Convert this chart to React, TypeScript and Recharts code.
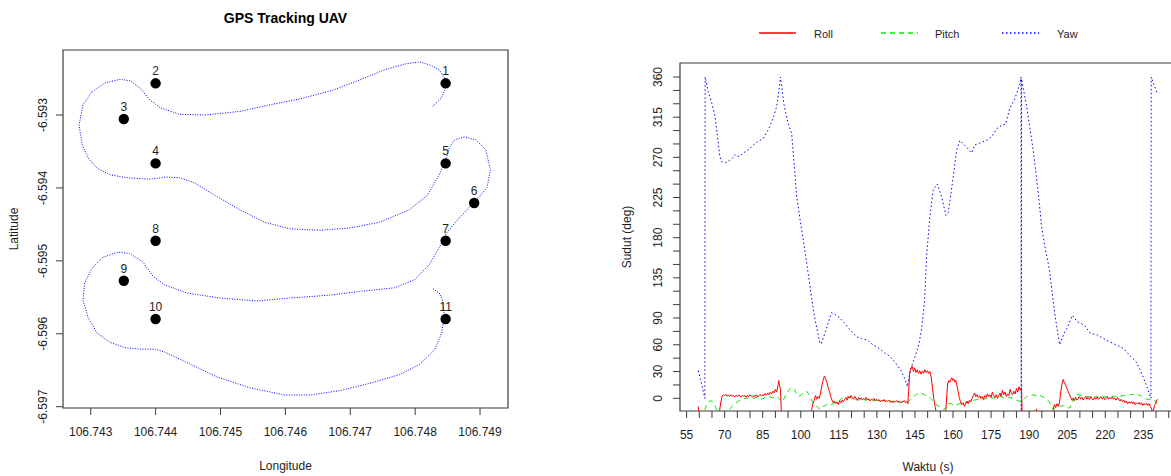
import React from 'react';
import { ScatterChart, Scatter, XAxis, YAxis, ReferenceArea, LineChart, Line, Legend } from 'recharts';

const FONT = '"Liberation Sans", Arial, Helvetica, sans-serif';
const INK = '#1e1e1e';
const FRAME = '#3c3c3c';

// ---------- Left panel: GPS Tracking UAV ----------
const waypointId = [1, 2, 3, 4, 5, 6, 7, 8, 9, 10, 11];
const waypointLon = [106.74847, 106.744, 106.74351, 106.744, 106.74847, 106.74891, 106.74847, 106.744, 106.74351, 106.744, 106.74847];
const waypointLat = [-6.592565, -6.592565, -6.593055, -6.593663, -6.593663, -6.594207, -6.594724, -6.594724, -6.595273, -6.595798, -6.595798];

const trackLon = [
  106.74827, 106.7484, 106.74847, 106.74845, 106.74837, 106.74825, 106.74807, 106.74784, 106.74753, 106.74714,
  106.74673, 106.74622, 106.74576, 106.7453, 106.74476, 106.74437, 106.74407, 106.74391, 106.74376, 106.74361,
  106.74345, 106.74322, 106.74302, 106.74288, 106.74282, 106.74287, 106.74296, 106.7431, 106.7433, 106.74356,
  106.74391, 106.74417, 106.74437, 106.7446, 106.74491, 106.7453, 106.74568, 106.74607, 106.74653, 106.74699,
  106.74745, 106.74791, 106.74819, 106.74837, 106.74847, 106.74853, 106.74861, 106.74876, 106.74894, 106.74909,
  106.74916, 106.74911, 106.74899, 106.74887, 106.74868, 106.74848, 106.74837, 106.74822, 106.74799, 106.74768,
  106.74714, 106.74668, 106.74607, 106.74556, 106.74499, 106.74448, 106.74414, 106.74396, 106.7438, 106.7436,
  106.74342, 106.74319, 106.74302, 106.74291, 106.74288, 106.74296, 106.7431, 106.7433, 106.74353, 106.74376,
  106.74399, 106.74414, 106.74445, 106.74494, 106.74545, 106.74599, 106.74638, 106.74684, 106.7473, 106.74776,
  106.74807, 106.7483, 106.74841, 106.74845, 106.74842, 106.74837, 106.74827,
];
const trackLat = [
  -6.59288, -6.59277, -6.59263, -6.59249, -6.59238, -6.59232, -6.59227, -6.5923, -6.59238, -6.59252,
  -6.59266, -6.59278, -6.59286, -6.59295, -6.593, -6.59299, -6.5929, -6.59279, -6.59263, -6.59253,
  -6.59251, -6.59256, -6.59268, -6.59286, -6.59314, -6.59341, -6.59359, -6.59373, -6.59382, -6.59386,
  -6.59388, -6.59385, -6.59386, -6.59393, -6.5941, -6.5943, -6.59447, -6.59456, -6.59458, -6.59455,
  -6.59447, -6.5943, -6.5941, -6.59382, -6.59362, -6.59344, -6.59334, -6.5933, -6.59334, -6.59348,
  -6.59375, -6.59399, -6.59412, -6.59423, -6.59441, -6.59462, -6.59482, -6.59505, -6.59526, -6.59537,
  -6.59542, -6.59547, -6.59551, -6.59555, -6.59551, -6.59544, -6.59533, -6.59521, -6.59501, -6.5949,
  -6.59488, -6.59495, -6.5951, -6.5953, -6.59553, -6.59578, -6.59599, -6.59612, -6.59619, -6.59621,
  -6.59621, -6.59625, -6.59638, -6.59659, -6.59674, -6.59684, -6.59684, -6.59678, -6.59668, -6.59656,
  -6.59642, -6.59622, -6.59599, -6.59574, -6.59553, -6.59544, -6.59538,
];

const lonTicks = [106.743, 106.744, 106.745, 106.746, 106.747, 106.748, 106.749];
const latTicks = [-6.597, -6.596, -6.595, -6.594, -6.593];
const lonDomain: [number, number] = [106.742573, 106.749431];
const latDomain: [number, number] = [-6.597018, -6.592108];

// ---------- Right panel: Roll / Pitch / Yaw ----------
const roll: [number, number][] = [
  [59.6, -9], [60, -28], [61, -30], [67, -30], [68, -14], [68.5, -4], [69, 2], [69.5, 4], [70, 3], [70.5, 4.5],
  [71, 2.5], [71.5, 3.5], [72, 2], [72.5, 4], [73, 2.5], [73.5, 3], [74, 1.5], [74.5, 3.5], [75, 2], [75.5, 4],
  [76, 2.5], [76.5, 1.5], [77, 3.5], [77.5, 2], [78, 3], [78.5, 1], [79, 3.5], [79.5, 2], [80, 4], [80.5, 2.5],
  [81, 1.5], [81.5, 3], [82, 2], [82.5, 4], [83, 1.5], [83.5, 3], [84, 4.5], [84.5, 2.5], [85, 4], [85.5, 3],
  [86, 5.5], [86.5, 3.5], [87, 6], [87.5, 4], [88, 7], [88.5, 5], [89, 8], [89.5, 6], [90, 10], [90.5, 7],
  [91, 14], [91.3, 20], [91.6, 15], [92, 10], [92.4, -20], [92.6, -30], [104, -30], [104.3, -12], [104.8, -6], [105.3, -2],
  [105.8, 3], [106.3, -1], [106.8, 2], [107.3, 0], [107.8, 6], [108.3, 14], [108.8, 20], [109.3, 25], [109.8, 22], [110.3, 18],
  [110.8, 12], [111.3, 8], [111.8, 2], [112.3, -2], [112.8, -5], [113.3, -3], [113.8, -6], [114.3, -4], [114.8, -7], [115.3, -3],
  [115.8, -5], [116.3, -2], [116.8, -4], [117.3, -1], [117.8, 1], [118.3, -2], [118.8, 2], [119.3, 0], [119.8, 3], [120.3, 1],
  [120.8, -1], [121.3, 2], [121.8, 0], [122.3, -2], [122.8, 1], [123.3, -1], [123.8, 0.5], [124.3, -2], [124.8, 0], [125.3, -1.5],
  [125.8, 1], [126.3, -2], [126.8, -0.5], [127.3, -3], [127.8, -1], [128.3, -2], [128.8, 0], [129.3, -2.5], [129.8, -1], [130.3, -3],
  [130.8, -1.5], [131.3, -4], [131.8, -2], [132.3, -3], [132.8, -1.5], [133.3, -4], [133.8, -2.5], [134.3, -3.5], [134.8, -2], [135.3, -4.5],
  [135.8, -3], [136.3, -5], [136.8, -3], [137.3, -4], [137.8, -2.5], [138.3, -4.5], [138.8, -3], [139.3, -5], [139.8, -3.5], [140.3, -4],
  [140.8, -2.5], [141.3, -5], [141.8, -3.5], [142.2, -6], [142.5, 8], [142.9, 28], [143.4, 33], [143.9, 36], [144.4, 30], [144.9, 34],
  [145.4, 29], [145.9, 32], [146.4, 28], [146.9, 31], [147.4, 27], [147.9, 30], [148.4, 28], [148.9, 32], [149.4, 29], [149.9, 31],
  [150.4, 28], [150.9, 30], [151.4, 24], [151.9, 12], [152.4, 0], [153, -10], [153.6, -20], [154, -30], [156.8, -30], [157.2, -12],
  [157.5, 2], [157.9, 16], [158.3, 20], [158.7, 18], [159.1, 21], [159.5, 23], [159.9, 20], [160.3, 22], [160.7, 18], [161.1, 20],
  [161.5, 15], [162, 8], [162.5, 0], [163, -4], [163.5, -7], [164, -5], [164.5, -9], [165, -6], [165.5, -3], [166, -6],
  [166.5, -2], [167, -4], [167.5, 0], [168, 3], [168.5, 6], [169, 2], [169.5, 4], [170, 1], [170.5, 3], [171, 0],
  [171.5, 2], [172, -1], [172.5, 3], [173, 1], [173.5, 5], [174, 2], [174.5, 4], [175, 1], [175.5, 7], [176, 3],
  [176.5, 1], [177, 4], [177.5, 0], [178, 3], [178.5, 6], [179, 2], [179.5, 9], [180, 4], [180.5, 7], [181, 2],
  [181.5, 5], [182, 3], [182.5, 10], [183, 6], [183.5, 4], [184, 8], [184.5, 5], [185, 11], [185.5, 7], [186, 13],
  [186.5, 9], [187, 12], [187.3, -25], [187.6, -30], [192.6, -30], [192.9, -12], [193.2, -30], [199.2, -30], [199.5, -12], [200, -7],
  [200.5, -10], [201, -6], [201.5, -9], [202, -4], [202.5, 8], [203, 17], [203.4, 21], [203.8, 18], [204.3, 15], [204.8, 12],
  [205.3, 8], [205.8, 5], [206.3, 2], [206.8, -2], [207.3, 0], [207.8, -3], [208.3, 1], [208.8, -2], [209.3, 0], [209.8, 2],
  [210.3, -1], [210.8, 1], [211.3, -2], [211.8, 0.5], [212.3, 2], [212.8, -1], [213.3, 1], [213.8, -1.5], [214.3, 2], [214.8, 0],
  [215.3, -2], [215.8, 1], [216.3, -1], [216.8, 1.5], [217.3, -1], [217.8, 0], [218.3, 2], [218.8, -1], [219.3, 1], [219.8, -1.5],
  [220.3, 0.5], [220.8, 2], [221.3, -1], [221.8, 1], [222.3, -0.5], [222.8, 1.5], [223.3, -1], [223.8, 0], [224.3, -2], [224.8, 1],
  [225.3, -1], [225.8, -3], [226.3, -1], [226.8, -4], [227.3, -2], [227.8, -5], [228.3, -3], [228.8, -6], [229.3, -4], [229.8, -5.5],
  [230.3, -3.5], [230.8, -6], [231.3, -4], [231.8, -7], [232.3, -5], [232.8, -6.5], [233.3, -4.5], [233.8, -7], [234.3, -5], [234.8, -8],
  [235.3, -6], [235.8, -7.5], [236.3, -5.5], [236.8, -8], [237.3, -6], [237.8, -9], [238.3, -12], [238.6, -16], [239, -13], [239.4, -8],
  [239.8, -6], [240.2, -3], [240.6, -1],
];

const pitch: [number, number][] = [
  [62.2, -13], [63, -6], [64, -3], [65, -3], [66, -7], [67, -14], [67.6, -25], [70.8, -25], [71.4, -14], [72.5, -10],
  [74, -6], [75.5, -3], [77, -1], [78.5, 0], [80, 1], [81.5, 0], [83, 1.5], [84.5, -1], [86, 1], [87.5, 2],
  [89, 0.5], [90.5, 2], [91.5, 0], [92.5, -4], [93.5, 0], [94.5, 6], [95.5, 10], [96.5, 12], [97.5, 10], [98.5, 4],
  [99.2, 2], [100.2, 4], [101.3, 7], [102.3, 8], [103.3, 4], [104.2, -2], [105, -6], [106, -8], [107, -11], [107.8, -12],
  [108.8, -9], [109.8, -8], [110.8, -6], [112, -7], [113.2, -5], [114.5, -4], [115.5, -2], [116.5, 0], [118, 2], [119.5, 1],
  [121, -1], [122.5, -2], [124, -1], [125.5, -2], [127, -1], [128.5, -3], [130, -2], [131.5, -3], [133, -2], [134.5, -4],
  [136, -3], [137.5, -4], [139, -5], [140.5, -4], [141.8, -5], [143, -2], [144.3, 1], [145.3, 4], [146.3, 6], [147.3, 6],
  [148.3, 5], [149.3, 3], [150.3, 2], [151.2, 0], [152.2, -3], [153.3, -7], [154.5, -9], [155.5, -11], [156.3, -13], [157.2, -10],
  [158.1, -6], [159.3, -6], [160.5, -8], [161.5, -7], [162.7, -6], [164, -4], [165.5, -5], [167, -3], [168.5, -2], [170, -1],
  [171.5, -2], [173, 0], [174.5, 1], [176, 0], [177.5, 1], [179, 2], [180.5, 0], [182, 1], [183.5, 0], [185, -2],
  [186, -3], [187, -4], [188, -1], [189, 2], [190.2, 3], [191.5, 4], [192.8, 3], [194, 4], [195, 2], [196, 1],
  [197, -1], [198, -4], [198.8, -9], [199.5, -12], [200.5, -10], [201.5, -8], [202.5, -9], [203.5, -8], [204.5, -9], [205.5, -11],
  [206.2, -10], [207, -4], [207.8, 2], [208.7, 5], [209.7, 4], [210.8, 3], [212, 1.5], [213.5, 2], [215, 1], [216.5, 2],
  [218, 1], [219.5, 2], [221, 1], [222.5, 2], [224, 2.5], [225.5, 2], [227, 3], [228.5, 3], [230, 4], [231, 4.5],
  [232, 3], [233, 4], [234, 3], [235, 1.5], [236.3, -1], [237.3, -1], [238.3, -1.5], [239.5, -2], [240.6, -7],
];

const yaw: [number, number][] = [
  [59.6, 31], [60.5, 21], [61.4, 10], [62.2, 0], [62.3, 360], [63.5, 344], [65, 330], [66.2, 316], [67.2, 292], [68.1, 271],
  [68.8, 265], [70.5, 264], [72.1, 267], [73, 269], [74, 273], [75.3, 271], [76.3, 272], [77.3, 275], [78.6, 277], [80, 280],
  [81.3, 284], [83.2, 288], [85.2, 291], [87.2, 301], [89.1, 314], [90.5, 327], [91.4, 345], [92, 360], [93.4, 329], [95, 308],
  [96.4, 297], [97.4, 262], [98.4, 226], [100, 195], [102, 158], [104, 118], [105.5, 90], [107.5, 62], [108.1, 61], [110.3, 80],
  [112.1, 96], [113.5, 94], [115.4, 90], [117, 85], [119.1, 78], [121, 72], [122, 69], [124, 67], [126.4, 65], [128.5, 60],
  [130.8, 56], [133, 51], [135.1, 47], [137.3, 40], [139.5, 31], [141, 22], [142, 13], [143.2, 32], [145.4, 50], [146.5, 60],
  [147.6, 77], [148.8, 110], [149.6, 160], [150.9, 204], [152.2, 234], [153.8, 240], [155.5, 226], [157.2, 205], [158.1, 208], [160.1, 248],
  [161.4, 278], [162.7, 289], [165.1, 282], [167.3, 275], [168.6, 284], [170.6, 286], [173.9, 290], [175.2, 293], [177.2, 302], [179.2, 306],
  [180.7, 307], [182.4, 325], [184.4, 336], [186.4, 353], [186.8, 360], [186.9, -30], [187.0, 358], [189, 327], [191.6, 278], [193.6, 230],
  [195, 190], [196.2, 170], [198, 144], [200.1, 95], [202, 60], [203.8, 73], [205.2, 80], [207, 93], [208.9, 86], [211.8, 82],
  [214, 73], [216.9, 71], [220.5, 65], [224.2, 60], [227.1, 56], [230, 47], [232.2, 41], [234, 30], [235.9, 17], [238, 0],
  [238.1, 360], [240.3, 343],
];

const timeTicks = [55, 60, 65, 70, 75, 80, 85, 90, 95, 100, 105, 110, 115, 120, 125, 130, 135, 140, 145, 150, 155, 160, 165, 170, 175, 180, 185, 190, 195, 200, 205, 210, 215, 220, 225, 230, 235, 240, 245];
const timeLabels = [55, 70, 85, 100, 115, 130, 145, 160, 175, 190, 205, 220, 235];
const angleTicks = [0, 15, 30, 45, 60, 75, 90, 105, 120, 135, 150, 165, 180, 195, 210, 225, 240, 255, 270, 285, 300, 315, 330, 345, 360];
const angleLabels = [0, 30, 60, 90, 135, 180, 225, 270, 315, 360];
const timeDomain: [number, number] = [52.4, 247.8];
const angleDomain: [number, number] = [-14.2, 375.7];

const seriesNames = ['Roll', 'Pitch', 'Yaw'];
const seriesColors = ['#ff0000', '#00ee00', '#0000ff'];
const seriesDash = ['none', '5 4', '1.5 2.5'];

const toPts = (arr: [number, number][]) => arr.map(([t, v]) => ({ t, v }));
const waypoints = waypointId.map((id, i) => ({ id, lon: waypointLon[i], lat: waypointLat[i] }));
const track = trackLon.map((lon, i) => ({ lon, lat: trackLat[i] }));

const textStyle = { fontFamily: FONT, fontSize: 12, fill: INK };

const BottomTick = (fmt: (v: number) => string, show: (v: number) => boolean) => (props: any) => {
  const { x, y, payload } = props;
  const v = payload.value as number;
  return (
    <g>
      <line x1={x} y1={y} x2={x} y2={y + 7} stroke={FRAME} strokeWidth={1} />
      {show(v) && (
        <text x={x} y={y + 24} textAnchor="middle" dominantBaseline="central" style={textStyle}>
          {fmt(v)}
        </text>
      )}
    </g>
  );
};

const LeftTick = (fmt: (v: number) => string, show: (v: number) => boolean, off: number) => (props: any) => {
  const { x, y, payload } = props;
  const v = payload.value as number;
  const tx = x - off;
  return (
    <g>
      <line x1={x} y1={y} x2={x - 7} y2={y} stroke={FRAME} strokeWidth={1} />
      {show(v) && (
        <text x={tx} y={y} textAnchor="middle" dominantBaseline="central" transform={`rotate(-90 ${tx} ${y})`} style={textStyle}>
          {fmt(v)}
        </text>
      )}
    </g>
  );
};

const WaypointShape = (props: any) => {
  const { cx, cy, payload } = props;
  return (
    <g>
      <circle cx={cx} cy={cy} r={5.2} fill="#000" />
      <text x={cx} y={cy - 12} textAnchor="middle" dominantBaseline="central" style={textStyle}>
        {payload.id}
      </text>
    </g>
  );
};

const LegendBox = () => (
  <svg width={600} height={60} style={{ display: 'block' }}>
    {seriesNames.map((name, i) => {
      const x0 = [159, 281, 402][i];
      const tx = [214, 335, 457][i];
      return (
        <g key={name}>
          <line x1={x0} y1={33} x2={x0 + 37} y2={33} stroke={seriesColors[i]} strokeWidth={i === 0 ? 1.6 : 1.3}
            strokeDasharray={seriesDash[i] === 'none' ? undefined : seriesDash[i]} />
          <text x={tx} y={34} dominantBaseline="central" style={{ fontFamily: FONT, fontSize: 11, fill: INK }}>{name}</text>
        </g>
      );
    })}
  </svg>
);

export default function App() {
  return (
    <div style={{ position: 'fixed', left: 0, top: 0, width: 1171, height: 476, overflow: 'hidden', background: '#fff' }}>
      <div style={{ position: 'absolute', left: 0, top: 0 }}>
        <ScatterChart width={590} height={476} margin={{ top: 50, right: 82, bottom: 28, left: 0 }}>
          <XAxis type="number" dataKey="lon" domain={lonDomain} allowDataOverflow ticks={lonTicks} interval={0}
            axisLine={false} tickLine={false} tickSize={0} tickMargin={0} height={40}
            tick={BottomTick((v) => v.toFixed(3), () => true)} />
          <YAxis type="number" dataKey="lat" domain={latDomain} allowDataOverflow ticks={latTicks} interval={0}
            axisLine={false} tickLine={false} tickSize={0} tickMargin={0} width={63}
            tick={LeftTick((v) => v.toFixed(3), () => true, 20)} />
          <ReferenceArea x1={lonDomain[0]} x2={lonDomain[1]} y1={latDomain[0]} y2={latDomain[1]} fill="none" stroke={FRAME} strokeWidth={1.2} ifOverflow="visible" />
          <Scatter data={track} line={{ stroke: '#0000ff', strokeWidth: 1, strokeDasharray: '1 1.5' }} lineType="joint"
            shape={() => <g />} isAnimationActive={false} />
          <Scatter data={waypoints} shape={WaypointShape} isAnimationActive={false} />
        </ScatterChart>
      </div>
      <div style={{ position: 'absolute', left: 600, top: 0 }}>
        <LineChart width={600} height={476} margin={{ top: 63, right: 24.2, bottom: 25, left: 0 }}>
          <XAxis type="number" dataKey="t" domain={timeDomain} allowDataOverflow ticks={timeTicks} interval={0}
            axisLine={false} tickLine={false} tickSize={0} tickMargin={0} height={40}
            tick={BottomTick((v) => String(v), (v) => timeLabels.includes(v))} />
          <YAxis type="number" domain={angleDomain} allowDataOverflow ticks={angleTicks} interval={0}
            axisLine={false} tickLine={false} tickSize={0} tickMargin={0} width={80}
            tick={LeftTick((v) => String(v), (v) => angleLabels.includes(v), 22)} />
          <ReferenceArea x1={timeDomain[0]} x2={timeDomain[1]} y1={angleDomain[0]} y2={angleDomain[1]} fill="none" stroke={FRAME} strokeWidth={1.2} ifOverflow="visible" />
          <Legend layout="horizontal" verticalAlign="middle" align="center" content={LegendBox}
            wrapperStyle={{ position: 'absolute', top: 0, left: 0, width: 600, height: 60 }} />
          <Line data={toPts(yaw)} dataKey="v" name="Yaw" type="linear" stroke={seriesColors[2]} strokeWidth={1}
            strokeDasharray={seriesDash[2]} dot={false} activeDot={false} isAnimationActive={false} />
          <Line data={toPts(pitch)} dataKey="v" name="Pitch" type="linear" stroke={seriesColors[1]} strokeWidth={1}
            strokeDasharray={seriesDash[1]} dot={false} activeDot={false} isAnimationActive={false} />
          <Line data={toPts(roll)} dataKey="v" name="Roll" type="linear" stroke={seriesColors[0]} strokeWidth={1}
            dot={false} activeDot={false} isAnimationActive={false} />
        </LineChart>
      </div>
      <svg width={1171} height={476} style={{ position: 'absolute', left: 0, top: 0, pointerEvents: 'none' }}>
        <text x={285.5} y={18} textAnchor="middle" dominantBaseline="central" style={{ fontFamily: FONT, fontSize: 14, fontWeight: 'bold', fill: '#000' }}>GPS Tracking UAV</text>
        <text x={285.5} y={466} textAnchor="middle" dominantBaseline="central" style={textStyle}>Longitude</text>
        <text x={14} y={229} textAnchor="middle" dominantBaseline="central" transform="rotate(-90 14 229)" style={textStyle}>Latitude</text>
        <text x={928} y={467} textAnchor="middle" dominantBaseline="central" style={textStyle}>Waktu (s)</text>
        <text x={627} y={237} textAnchor="middle" dominantBaseline="central" transform="rotate(-90 627 237)" style={textStyle}>Sudut (deg)</text>
      </svg>
    </div>
  );
}
